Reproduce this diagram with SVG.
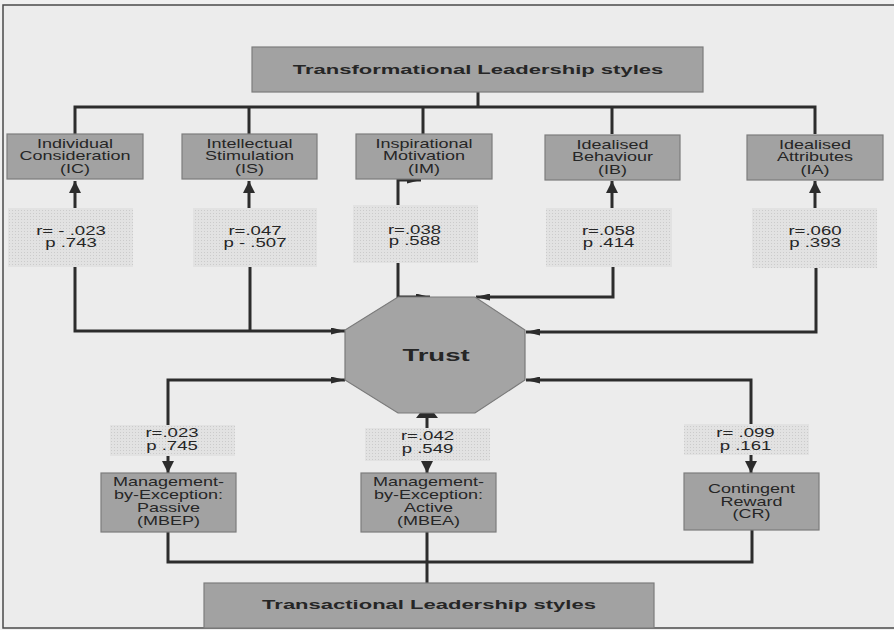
<svg xmlns="http://www.w3.org/2000/svg" width="894" height="630" viewBox="0 0 894 630">
<style>
.box{fill:#a2a2a2;stroke:#7c7c7c;stroke-width:1.2}
.lbl{fill:url(#dots)}
.t{font-family:"Liberation Sans",Arial,sans-serif;font-size:12px;fill:#262626;text-anchor:middle}
.b{font-family:"Liberation Sans",Arial,sans-serif;font-weight:bold;font-size:13.5px;fill:#262626;text-anchor:middle}
.ln{fill:none;stroke:#2c2c2c;stroke-width:3}
.ah{marker-end:url(#ah)}
.ahs{marker-end:url(#ahs)}
</style>
<defs>
<pattern id="dots" width="3" height="3" patternUnits="userSpaceOnUse">
<rect width="3" height="3" fill="#e2e2e2"/>
<rect width="1" height="1" fill="#cbcbcb"/>
</pattern>
<marker id="ah" markerUnits="userSpaceOnUse" markerWidth="12" markerHeight="12" viewBox="0 0 10 10" refX="10" refY="5" orient="auto">
<path d="M0,0 L10,5 L0,10 z" fill="#2c2c2c"/>
</marker>
<marker id="ahs" markerUnits="userSpaceOnUse" markerWidth="14" markerHeight="7" viewBox="0 0 14 7" refX="14" refY="3.5" orient="auto">
<path d="M0,0 L14,3.5 L0,7 z" fill="#2c2c2c"/>
</marker>
</defs>
<rect x="0" y="0" width="894" height="630" fill="#f0f0f0"/>
<rect x="3" y="5" width="900" height="623" fill="#ececec" stroke="#4a4a4a" stroke-width="1.5"/>

<g id="connectors">
<path class="ln" d="M478,92 V107"/>
<path class="ln" d="M75,134 V107 H815 V134"/>
<path class="ln" d="M249,107 V134 M423,107 V134 M612,107 V134"/>
<path class="ln ah" d="M75,208 V181"/>
<path class="ln ah" d="M249,208 V181"/>
<path class="ln ah" d="M612,208 V181"/>
<path class="ln ah" d="M815,208 V181"/>
<path class="ln ahs" d="M398,205 V180 H421"/>
<path class="ln ahs" d="M75,267 V331 H345"/>
<path class="ln" d="M250,267 V331"/>
<path class="ln ahs" d="M398,263 V297 H430"/>
<path class="ln ahs" d="M613,267 V297 H476"/>
<path class="ln ahs" d="M816,268 V332 H526"/>
<path class="ln ahs" d="M168,425 V380 H345"/>
<path class="ln ahs" d="M751,424 V380 H526"/>
<path class="ln" d="M427,428 V414"/>
<polygon points="416,418 438,418 427,404" fill="#2c2c2c"/>
<path class="ln ah" d="M168,456 V473"/>
<path class="ln ah" d="M427,461 V473"/>
<path class="ln ah" d="M751,455 V473"/>
<path class="ln" d="M168,532 V562 H752 V530"/>
<path class="ln" d="M427,532 V583"/>
</g>

<g id="transformational">
<rect class="box" x="252" y="47" width="451" height="45"/>
<text class="b" transform="translate(478 74) scale(1.63 1)">Transformational Leadership styles</text>
</g>

<g id="IC">
<rect class="box" x="7" y="134" width="136" height="45"/>
<g transform="translate(75 0) scale(1.5 1)"><text class="t" y="148">Individual</text><text class="t" y="160.5">Consideration</text><text class="t" y="173">(IC)</text></g>
</g>
<g id="IS">
<rect class="box" x="182" y="134" width="135" height="45"/>
<g transform="translate(249.5 0) scale(1.5 1)"><text class="t" y="148">Intellectual</text><text class="t" y="160.5">Stimulation</text><text class="t" y="173">(IS)</text></g>
</g>
<g id="IM">
<rect class="box" x="356" y="134" width="136" height="45"/>
<g transform="translate(424 0) scale(1.5 1)"><text class="t" y="148">Inspirational</text><text class="t" y="160.5">Motivation</text><text class="t" y="173">(IM)</text></g>
</g>
<g id="IB">
<rect class="box" x="545" y="135" width="135" height="45"/>
<g transform="translate(612.5 0) scale(1.5 1)"><text class="t" y="149">Idealised</text><text class="t" y="161.5">Behaviour</text><text class="t" y="174">(IB)</text></g>
</g>
<g id="IA">
<rect class="box" x="747" y="135" width="136" height="45"/>
<g transform="translate(815 0) scale(1.5 1)"><text class="t" y="149">Idealised</text><text class="t" y="161.5">Attributes</text><text class="t" y="174">(IA)</text></g>
</g>

<g id="label-IC">
<rect class="lbl" x="8" y="208" width="125" height="59"/>
<g transform="translate(71 0) scale(1.55 1)"><text class="t" y="235">r= - .023</text><text class="t" y="247">p .743</text></g>
</g>
<g id="label-IS">
<rect class="lbl" x="193" y="208" width="124" height="59"/>
<g transform="translate(255 0) scale(1.55 1)"><text class="t" y="235">r=.047</text><text class="t" y="247">p - .507</text></g>
</g>
<g id="label-IM">
<rect class="lbl" x="353" y="205" width="125" height="58"/>
<g transform="translate(414.5 0) scale(1.55 1)"><text class="t" y="234">r=.038</text><text class="t" y="245.5">p .588</text></g>
</g>
<g id="label-IB">
<rect class="lbl" x="546" y="208" width="126" height="59"/>
<g transform="translate(608.5 0) scale(1.55 1)"><text class="t" y="235">r=.058</text><text class="t" y="247">p .414</text></g>
</g>
<g id="label-IA">
<rect class="lbl" x="752" y="208" width="125" height="60"/>
<g transform="translate(815 0) scale(1.55 1)"><text class="t" y="235">r=.060</text><text class="t" y="247">p .393</text></g>
</g>

<g id="trust">
<polygon points="398,297 475,297 525,330 525,380 475,413 398,413 345,380 345,330" fill="#a4a4a4" stroke="#7a7a7a" stroke-width="1.2"/>
<text class="b" style="font-size:16px" transform="translate(436 361) scale(1.72 1)">Trust</text>
</g>

<g id="label-MBEP">
<rect class="lbl" x="110" y="425" width="125" height="31"/>
<g transform="translate(172 0) scale(1.55 1)"><text class="t" y="437">r=.023</text><text class="t" y="450">p .745</text></g>
</g>
<g id="label-MBEA">
<rect class="lbl" x="365" y="428" width="125" height="33"/>
<g transform="translate(427.5 0) scale(1.55 1)"><text class="t" y="440">r=.042</text><text class="t" y="453">p .549</text></g>
</g>
<g id="label-CR">
<rect class="lbl" x="684" y="424" width="125" height="31"/>
<g transform="translate(745.5 0) scale(1.55 1)"><text class="t" y="437">r= .099</text><text class="t" y="450">p .161</text></g>
</g>

<g id="MBEP">
<rect class="box" x="101" y="473" width="135" height="59"/>
<g transform="translate(168.5 0) scale(1.5 1)"><text class="t" y="486">Management-</text><text class="t" y="499">by-Exception:</text><text class="t" y="512">Passive</text><text class="t" y="525">(MBEP)</text></g>
</g>
<g id="MBEA">
<rect class="box" x="361" y="473" width="135" height="59"/>
<g transform="translate(428.5 0) scale(1.5 1)"><text class="t" y="486">Management-</text><text class="t" y="499">by-Exception:</text><text class="t" y="512">Active</text><text class="t" y="525">(MBEA)</text></g>
</g>
<g id="CR">
<rect class="box" x="684" y="473" width="135" height="57"/>
<g transform="translate(751.5 0) scale(1.5 1)"><text class="t" y="493">Contingent</text><text class="t" y="506">Reward</text><text class="t" y="518.5">(CR)</text></g>
</g>

<g id="transactional">
<rect class="box" x="204" y="583" width="450" height="45"/>
<text class="b" transform="translate(429 609) scale(1.63 1)">Transactional Leadership styles</text>
</g>
</svg>
